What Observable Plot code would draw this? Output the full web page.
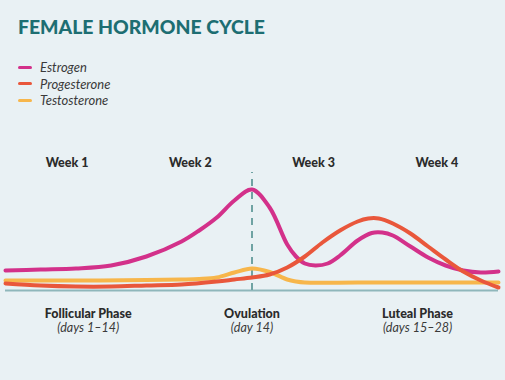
<!DOCTYPE html>
<html>
<head>
<meta charset="utf-8">
<script src="https://cdn.jsdelivr.net/npm/d3@7"></script>
<script src="https://cdn.jsdelivr.net/npm/@observablehq/plot@0.6"></script>
<style>
  html, body { margin: 0; padding: 0; }
  body { width: 505px; height: 380px; background: #e9f1f4; position: relative; overflow: hidden; font-family: Lato, "Open Sans", sans-serif; }
  #title { position: absolute; left: 18px; top: 15px; font-family: Lato, sans-serif; font-weight: 900; font-size: 19.4px; color: #1d6e72; letter-spacing: 0px; white-space: nowrap; }
  #legend { position: absolute; left: 18px; top: 59px; }
  .row { display: flex; align-items: center; height: 16.5px; font-style: italic; font-size: 13px; color: #3a3a3a; font-family: Lato, sans-serif; }
  .sw { width: 14px; height: 3px; border-radius: 1.5px; margin-right: 8px; }
  #chart { position: absolute; left: 0; top: 130px; }
</style>
</head>
<body>
<div id="title">FEMALE HORMONE CYCLE</div>
<div id="legend"></div>
<div id="chart"></div>
<script>
const seriesNames = ["Estrogen", "Progesterone", "Testosterone"];
const seriesColors = ["#d3318a", "#e9573b", "#f7b64b"];

const estrogenDays = [0, 2, 4, 6, 8, 10, 11, 12, 13, 14, 15, 16, 16.5, 17, 17.6, 18.3, 19, 20, 20.8, 21.4, 22, 23, 24, 25, 26, 27, 28];
const estrogen     = [20, 21, 22, 25, 34, 49, 60, 73, 90, 101, 83, 46, 34, 27, 25, 27, 35, 50, 57.5, 58, 55, 44, 33, 25, 20, 18, 19];

const progesteroneDays = [0, 2, 4, 6, 8, 10, 12, 13, 14, 15, 16, 17, 18, 19, 20, 20.6, 21.2, 22, 23, 24, 25, 26, 27, 28];
const progesterone     = [7, 5, 4, 4, 5, 6, 9, 11, 13, 16, 23, 34, 48, 60, 69, 72, 72, 67, 57, 44, 31, 19, 10, 3];

const testosteroneDays = [0, 4, 8, 10, 11, 12, 13, 14, 15, 16, 16.5, 17, 20, 24, 28];
const testosterone     = [10, 10, 10.5, 11, 11.5, 13, 18, 22, 18.5, 11, 9, 8, 8, 8, 8];

const weekLabels = ["Week 1", "Week 2", "Week 3", "Week 4"];
const weekCenters = [3.5, 10.5, 17.5, 24.5];

const phaseNames = ["Follicular Phase", "Ovulation", "Luteal Phase"];
const phaseRanges = ["(days 1–14)", "(day 14)", "(days 15–28)"];
const phaseCenters = [4.7, 14, 23.4];

const ovulationDay = 14;

// legend
const legend = document.getElementById("legend");
seriesNames.forEach((n, i) => {
  const r = document.createElement("div"); r.className = "row";
  const s = document.createElement("div"); s.className = "sw"; s.style.background = seriesColors[i];
  const t = document.createElement("span"); t.textContent = n;
  r.appendChild(s); r.appendChild(t); legend.appendChild(r);
});

const rows = [];
estrogenDays.forEach((d, i) => rows.push({series: "Estrogen", day: d, v: estrogen[i]}));
progesteroneDays.forEach((d, i) => rows.push({series: "Progesterone", day: d, v: progesterone[i]}));
testosteroneDays.forEach((d, i) => rows.push({series: "Testosterone", day: d, v: testosterone[i]}));

const weeks = weekLabels.map((w, i) => ({w, d: weekCenters[i]}));
const phases = phaseNames.map((p, i) => ({p, r: phaseRanges[i], d: phaseCenters[i]}));

const drawOrder = ["Testosterone", "Estrogen", "Progesterone"];

const chart = Plot.plot({
  width: 505,
  height: 250,
  marginLeft: 5,
  marginRight: 7,
  marginTop: 40,
  marginBottom: 90,
  style: {background: "transparent", fontFamily: "Lato, sans-serif", overflow: "visible"},
  x: {domain: [0, 28], axis: null},
  y: {domain: [0, 120], axis: null},
  color: {domain: seriesNames, range: seriesColors},
  marks: [
    Plot.ruleY([0], {stroke: "#8fb7bb", strokeWidth: 2}),
    Plot.ruleX([ovulationDay], {y1: 0, y2: 118, stroke: "#6fa3a3", strokeWidth: 2, strokeDasharray: "7,6"}),
    ...drawOrder.map(s => Plot.line(rows.filter(r => r.series === s), {
      x: "day", y: "v", stroke: "series", strokeWidth: 4, curve: "catmull-rom", strokeLinecap: "round"
    })),
    Plot.text(weeks, {x: "d", text: "w", frameAnchor: "top", dy: -12, fontWeight: 900, fontSize: 12.5, fill: "#2b2b2b"}),
    Plot.text(phases, {x: "d", text: "p", frameAnchor: "bottom", dy: 27, fontWeight: 900, fontSize: 12.5, fill: "#2b2b2b"}),
    Plot.text(phases, {x: "d", text: "r", frameAnchor: "bottom", dy: 41, fontStyle: "italic", fontSize: 12.5, fill: "#3a3a3a"})
  ]
});
document.getElementById("chart").appendChild(chart);
</script>
</body>
</html>
